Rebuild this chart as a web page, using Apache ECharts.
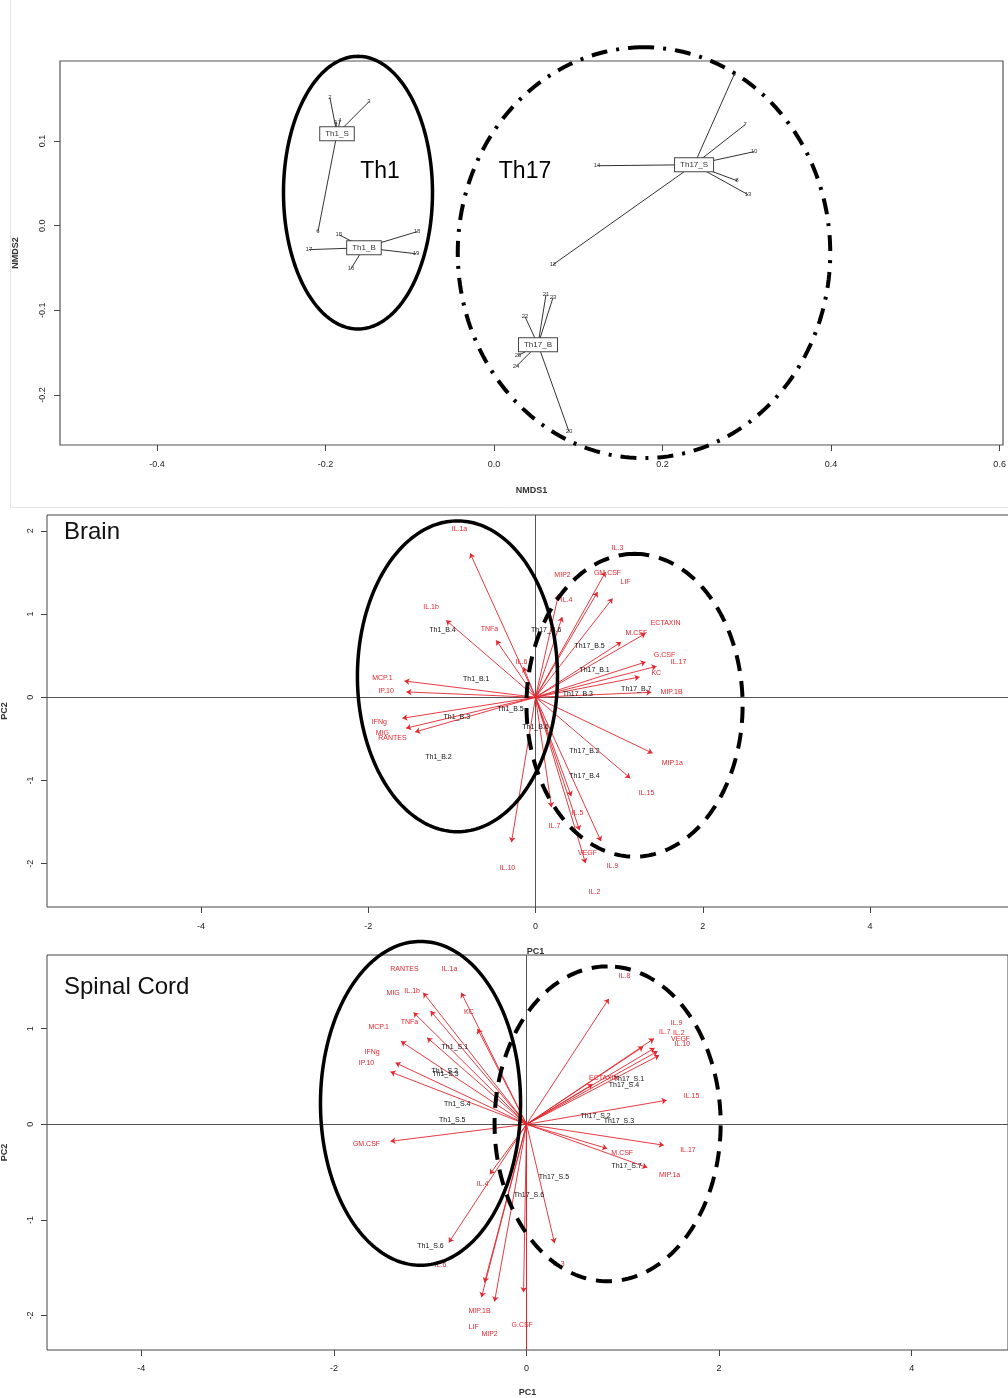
<!DOCTYPE html>
<html><head><meta charset="utf-8">
<script src="https://cdn.jsdelivr.net/npm/echarts@6/dist/echarts.min.js"></script>
<style>html,body{margin:0;padding:0;background:#fff}#c{width:1008px;height:1398px}</style>
</head><body><div id="c"></div>
<script>
// ================= NMDS panel (top) =================
const nmdsGroups = ['Th1_S', 'Th1_B', 'Th17_S', 'Th17_B'];
const nmdsCentroids = [[-0.1863, 0.1086], [-0.1543, -0.026], [0.2374, 0.072], [0.0522, -0.1405]];
const nmdsSampleIds = ['2', '3', '4', '1', '6', '15', '18', '17', '19', '16', '9', '7', '10', '8', '13', '14', '12', '21', '23', '22', '25', '24', '20'];
const nmdsSampleGroup = [0, 0, 0, 0, 0, 1, 1, 1, 1, 1, 2, 2, 2, 2, 2, 2, 2, 3, 3, 3, 3, 3, 3];
const nmdsSampleX = [-0.1947, -0.1484, -0.1828, -0.1875, -0.2089, -0.184, -0.0914, -0.2196, -0.0926, -0.1697, 0.2849, 0.2979, 0.3086, 0.2884, 0.3015, 0.1223, 0.07, 0.0617, 0.07, 0.0368, 0.0285, 0.0261, 0.089];
const nmdsSampleY = [0.1511, 0.1464, 0.124, 0.1225, -0.0071, -0.0106, -0.0071, -0.0283, -0.0331, -0.0508, 0.1783, 0.1192, 0.0874, 0.0531, 0.0366, 0.0708, -0.046, -0.0815, -0.085, -0.1074, -0.1535, -0.1665, -0.2432];
const nmdsClusterNames = ['Th1', 'Th17'];
const nmdsClusterTextXY = [[-0.1353, 0.0638], [0.0368, 0.0638]];
// ellipses: [cx, cy, rx, ry]
const nmdsEllipses = [[-0.1614, 0.039, 0.0884, 0.161], [0.178, -0.0319, 0.221, 0.2426]];
const nmdsXTicks = [-0.4, -0.2, 0.0, 0.2, 0.4, 0.6];
const nmdsYTicks = [-0.2, -0.1, 0.0, 0.1];

// ================= Brain PCA biplot =================
const brainVars = ['IL.1a', 'IL.1b', 'TNFa', 'IL.6', 'MCP.1', 'IP.10', 'IFNg', 'MIG', 'RANTES', 'IL.10', 'IL.3', 'GM.CSF', 'LIF', 'MIP2', 'IL.4', 'ECTAXIN', 'M.CSF', 'G.CSF', 'IL.17', 'KC', 'MIP.1B', 'MIP.1a', 'IL.15', 'IL.5', 'IL.7', 'VEGF', 'IL.9', 'IL.2'];
const brainVarLabelX = [-0.909, -1.248, -0.550, -0.167, -1.830, -1.786, -1.866, -1.830, -1.711, -0.335, 0.981, 0.861, 1.077, 0.323, 0.371, 1.555, 1.205, 1.543, 1.711, 1.444, 1.627, 1.635, 1.328, 0.502, 0.227, 0.622, 0.921, 0.706];
const brainVarLabelY = [2.017, 1.084, 0.816, 0.420, 0.228, 0.072, -0.300, -0.432, -0.489, -2.053, 1.789, 1.489, 1.384, 1.465, 1.164, 0.888, 0.772, 0.504, 0.420, 0.288, 0.064, -0.792, -1.152, -1.393, -1.549, -1.873, -2.029, -2.341];
const brainArrowX = [-0.781, -1.068, -0.470, -0.144, -1.567, -1.543, -1.591, -1.547, -1.439, -0.287, 0.837, 0.742, 0.921, 0.275, 0.319, 1.316, 1.025, 1.316, 1.447, 1.244, 1.384, 1.400, 1.133, 0.427, 0.191, 0.526, 0.783, 0.598];
const brainArrowY = [1.729, 0.924, 0.684, 0.360, 0.196, 0.064, -0.252, -0.372, -0.417, -1.741, 1.504, 1.264, 1.188, 1.237, 0.964, 0.768, 0.664, 0.424, 0.372, 0.244, 0.060, -0.672, -0.972, -1.188, -1.321, -1.597, -1.729, -1.993];
const brainSamples = ['Th1_B.1', 'Th1_B.2', 'Th1_B.3', 'Th1_B.4', 'Th1_B.5', 'Th1_B.6', 'Th17_B.1', 'Th17_B.2', 'Th17_B.3', 'Th17_B.4', 'Th17_B.5', 'Th17_B.6', 'Th17_B.7'];
const brainSampleX = [-0.709, -1.160, -0.941, -1.112, -0.299, 0.0, 0.706, 0.586, 0.506, 0.586, 0.646, 0.128, 1.205];
const brainSampleY = [0.224, -0.717, -0.236, 0.804, -0.144, -0.360, 0.324, -0.645, 0.044, -0.945, 0.616, 0.804, 0.104];
const brainEllipses = [[-0.933, 0.252, 1.196, 1.867], [1.184, -0.096, 1.292, 1.819]];
const brainXTicks = [-4, -2, 0, 2, 4];
const brainYTicks = [-2, -1, 0, 1, 2];

// ================= Spinal cord PCA biplot =================
const spinalVars = ['RANTES', 'IL.1a', 'MIG', 'IL.1b', 'KC', 'TNFa', 'MCP.1', 'IFNg', 'IP.10', 'GM.CSF', 'IL.8', 'IL.9', 'IL.7', 'IL.2', 'VEGF', 'IL.10', 'ECTAXIN', 'IL.15', 'IL.17', 'M.CSF', 'MIP.1a', 'IL.3', 'IL.4', 'IL.6', 'MIP.1B', 'LIF', 'MIP2', 'G.CSF'];
const spinalVarLabelX = [-1.268, -0.800, -1.385, -1.188, -0.599, -1.216, -1.535, -1.603, -1.662, -1.662, 1.018, 1.558, 1.437, 1.582, 1.600, 1.618, 0.803, 1.714, 1.676, 0.994, 1.486, 0.336, -0.457, -0.894, -0.488, -0.548, -0.384, -0.045];
const spinalVarLabelY = [1.627, 1.627, 1.376, 1.393, 1.173, 1.066, 1.021, 0.755, 0.645, -0.209, 1.550, 1.055, 0.964, 0.958, 0.896, 0.843, 0.481, 0.296, -0.269, -0.303, -0.533, -1.463, -0.627, -1.473, -1.957, -2.124, -2.194, -2.100];
const spinalArrowX = [-1.073, -0.678, -1.174, -0.997, -0.509, -1.032, -1.304, -1.361, -1.413, -1.413, 0.855, 1.323, 1.212, 1.330, 1.361, 1.378, 0.686, 1.455, 1.426, 0.838, 1.254, 0.291, -0.381, -0.807, -0.436, -0.468, -0.332, -0.031];
const spinalArrowY = [1.376, 1.376, 1.170, 1.184, 0.998, 0.906, 0.867, 0.643, 0.548, -0.178, 1.313, 0.896, 0.812, 0.797, 0.763, 0.721, 0.418, 0.251, -0.219, -0.254, -0.452, -1.243, -0.522, -1.236, -1.654, -1.808, -1.853, -1.755];
const spinalSamples = ['Th1_S.1', 'Th1_S.2', 'Th1_S.3', 'Th1_S.4', 'Th1_S.5', 'Th1_S.6', 'Th17_S.6', 'Th17_S.1', 'Th17_S.4', 'Th17_S.2', 'Th17_S.3', 'Th17_S.5', 'Th17_S.7'];
const spinalSampleX = [-0.745, -0.849, -0.842, -0.720, -0.772, -0.997, 0.024, 1.063, 1.011, 0.717, 0.959, 0.284, 1.039];
const spinalSampleY = [0.812, 0.557, 0.522, 0.209, 0.045, -1.278, -0.742, 0.478, 0.408, 0.087, 0.034, -0.551, -0.442];
const spinalEllipses = [[-1.101, 0.219, 1.039, 1.693], [0.842, 0.005, 1.174, 1.646]];
const spinalXTicks = [-4, -2, 0, 2, 4];
const spinalYTicks = [-2, -1, 0, 1];

// ================= helpers =================
const FONT = 'Liberation Sans, Arial, sans-serif';
const RED = '#e3262e';
const chart = echarts.init(document.getElementById('c'), null, {renderer: 'canvas'});

function ellipseSeries(idx, ellipses, styles) {
  return {
    type: 'custom', xAxisIndex: idx, yAxisIndex: idx, z: 6, clip: false, silent: true,
    data: ellipses,
    encode: {x: 0, y: 1},
    renderItem: function (params, api) {
      const cx = api.value(0), cy = api.value(1), rx = api.value(2), ry = api.value(3);
      const pts = [];
      const N = 240;
      for (let k = 0; k <= N; k++) {
        const t = Math.PI / 2 + 2 * Math.PI * k / N;
        pts.push(api.coord([cx + rx * Math.cos(t), cy + ry * Math.sin(t)]));
      }
      const st = styles[params.dataIndex];
      return {type: 'polyline', shape: {points: pts},
        style: {stroke: '#000', fill: null, lineWidth: st.w, lineDash: st.dash || null, lineCap: 'butt'}};
    }
  };
}

function axisX(idx, min, max, ticks, name, gap, fmt, margin) {
  return {
    gridIndex: idx, type: 'value', min: min, max: max, position: 'bottom',
    name: name, nameLocation: 'middle', nameGap: gap,
    nameTextStyle: {fontFamily: FONT, fontSize: 9, fontWeight: 'bold', color: '#333'},
    axisLine: {show: false, onZero: false},
    axisTick: {show: true, inside: false, length: 6, customValues: ticks, lineStyle: {color: '#444'}},
    axisLabel: {customValues: ticks, margin: margin, fontFamily: FONT, fontSize: 9, color: '#222', formatter: fmt},
    splitLine: {show: false}
  };
}
function axisY(idx, min, max, ticks, name, gap, fmt, margin) {
  return {
    gridIndex: idx, type: 'value', min: min, max: max, position: 'left',
    name: name, nameLocation: 'middle', nameGap: gap, nameRotate: 90,
    nameTextStyle: {fontFamily: FONT, fontSize: 9, fontWeight: 'bold', color: '#333'},
    axisLine: {show: false, onZero: false},
    axisTick: {show: true, inside: false, length: 6, customValues: ticks, lineStyle: {color: '#444'}},
    axisLabel: {customValues: ticks, margin: margin, rotate: 90, fontFamily: FONT, fontSize: 9, color: '#222', formatter: fmt},
    splitLine: {show: false}
  };
}
const f1 = v => v.toFixed(1);
const f0 = v => String(Math.round(v));

// ---- build NMDS series data
const spiderLines = nmdsSampleIds.map((id, i) => ({coords: [nmdsCentroids[nmdsSampleGroup[i]], [nmdsSampleX[i], nmdsSampleY[i]]]}));
const spiderLabels = nmdsSampleIds.map((id, i) => [nmdsSampleX[i], nmdsSampleY[i], id]);
const centroidLabels = nmdsGroups.map((g, i) => [nmdsCentroids[i][0], nmdsCentroids[i][1], g]);
const clusterText = nmdsClusterNames.map((n, i) => [nmdsClusterTextXY[i][0], nmdsClusterTextXY[i][1], n]);

function arrowData(ax, ay) { return ax.map((x, i) => ({coords: [[0, 0], [x, ay[i]]]})); }
function labelData(names, lx, ly) { return names.map((n, i) => [lx[i], ly[i], n]); }

function textScatter(idx, data, color, size, z, extraLabel) {
  return {
    type: 'scatter', xAxisIndex: idx, yAxisIndex: idx, symbolSize: 0, z: z, silent: true,
    itemStyle: {color: color, opacity: 1},
    data: data,
    label: Object.assign({show: true, position: 'inside', formatter: p => p.value[2], color: color, fontSize: size,
      fontFamily: FONT, textBorderWidth: 0, textBorderColor: 'transparent', opacity: 1}, extraLabel || {}),
    labelLayout: {hideOverlap: false}
  };
}

const option = {
  animation: false,
  backgroundColor: '#fff',
  graphic: [
    {type: 'rect', shape: {x: 10.5, y: -1, width: 1000, height: 508.5}, style: {fill: 'none', stroke: '#e4e4e4', lineWidth: 1}, z: -10},
    {type: 'text', left: 64, top: 520, style: {text: 'Brain', fontSize: 24, fontFamily: FONT, fill: '#111'}},
    {type: 'text', left: 64, top: 975, style: {text: 'Spinal Cord', fontSize: 24, fontFamily: FONT, fill: '#111'}}
  ],
  grid: [
    {left: 60, top: 61, width: 943, height: 384, outerBoundsMode: 'none', containLabel: false, show: true, borderColor: '#555', borderWidth: 1.2, backgroundColor: 'transparent'},
    {left: 47, top: 515, width: 977, height: 392, outerBoundsMode: 'none', containLabel: false, show: true, borderColor: '#444', borderWidth: 1, backgroundColor: 'transparent'},
    {left: 47, top: 955, width: 961, height: 395, outerBoundsMode: 'none', containLabel: false, show: true, borderColor: '#444', borderWidth: 1, backgroundColor: 'transparent'}
  ],
  xAxis: [
    axisX(0, -0.515, 0.604, nmdsXTicks, 'NMDS1', 41, f1, 15),
    axisX(1, -5.84, 5.84, brainXTicks, 'PC1', 40, f0, 15),
    axisX(2, -4.98, 5.0, spinalXTicks, 'PC1', 38, f0, 14)
  ],
  yAxis: [
    axisY(0, -0.259, 0.1945, nmdsYTicks, 'NMDS2', 40, f1, 13),
    axisY(1, -2.52, 2.19, brainYTicks, 'PC2', 38, f0, 12),
    axisY(2, -2.36, 1.77, spinalYTicks, 'PC2', 38, f0, 12)
  ],
  series: [
    // ---- NMDS
    {type: 'lines', coordinateSystem: 'cartesian2d', xAxisIndex: 0, yAxisIndex: 0, z: 2, silent: true,
      symbol: ['none', 'none'], lineStyle: {color: '#333', width: 1, opacity: 1}, data: spiderLines},
    textScatter(0, spiderLabels, '#333', 6, 3),
    textScatter(0, centroidLabels, '#333', 8, 4, {backgroundColor: '#fff', borderColor: '#444', borderWidth: 1, padding: [3, 5, 2, 5]}),
    textScatter(0, clusterText, '#000', 23, 4),
    ellipseSeries(0, nmdsEllipses, [{w: 3.5}, {w: 4, dash: [16, 9, 3, 9]}]),

    // ---- Brain
    {type: 'lines', coordinateSystem: 'cartesian2d', xAxisIndex: 1, yAxisIndex: 1, z: 1, silent: true,
      symbol: ['none', 'none'], lineStyle: {color: '#555', width: 1, opacity: 1},
      data: [{coords: [[-5.84, 0], [5.84, 0]]}, {coords: [[0, -2.52], [0, 2.19]]}]},
    {type: 'lines', coordinateSystem: 'cartesian2d', xAxisIndex: 1, yAxisIndex: 1, z: 2, silent: true,
      symbol: ['none', 'arrow'], symbolSize: 5, lineStyle: {color: RED, width: 0.9, opacity: 1},
      data: arrowData(brainArrowX, brainArrowY)},
    textScatter(1, labelData(brainVars, brainVarLabelX, brainVarLabelY), RED, 7, 3),
    textScatter(1, labelData(brainSamples, brainSampleX, brainSampleY), '#111', 7, 3),
    ellipseSeries(1, brainEllipses, [{w: 3.5}, {w: 4, dash: [16, 10]}]),

    // ---- Spinal cord
    {type: 'lines', coordinateSystem: 'cartesian2d', xAxisIndex: 2, yAxisIndex: 2, z: 1, silent: true,
      symbol: ['none', 'none'], lineStyle: {color: '#555', width: 1, opacity: 1},
      data: [{coords: [[-4.98, 0], [5.0, 0]]}, {coords: [[0, 0], [0, 1.77]]}]},
    {type: 'lines', coordinateSystem: 'cartesian2d', xAxisIndex: 2, yAxisIndex: 2, z: 1, silent: true,
      symbol: ['none', 'none'], lineStyle: {color: RED, width: 1, opacity: 1},
      data: [{coords: [[0, 0], [0, -2.36]]}]},
    {type: 'lines', coordinateSystem: 'cartesian2d', xAxisIndex: 2, yAxisIndex: 2, z: 2, silent: true,
      symbol: ['none', 'arrow'], symbolSize: 5, lineStyle: {color: RED, width: 0.9, opacity: 1},
      data: arrowData(spinalArrowX, spinalArrowY)},
    textScatter(2, labelData(spinalVars, spinalVarLabelX, spinalVarLabelY), RED, 7, 3),
    textScatter(2, labelData(spinalSamples, spinalSampleX, spinalSampleY), '#111', 7, 3),
    ellipseSeries(2, spinalEllipses, [{w: 3.5}, {w: 4, dash: [16, 10]}])
  ]
};
chart.setOption(option);
</script>
</body></html>
